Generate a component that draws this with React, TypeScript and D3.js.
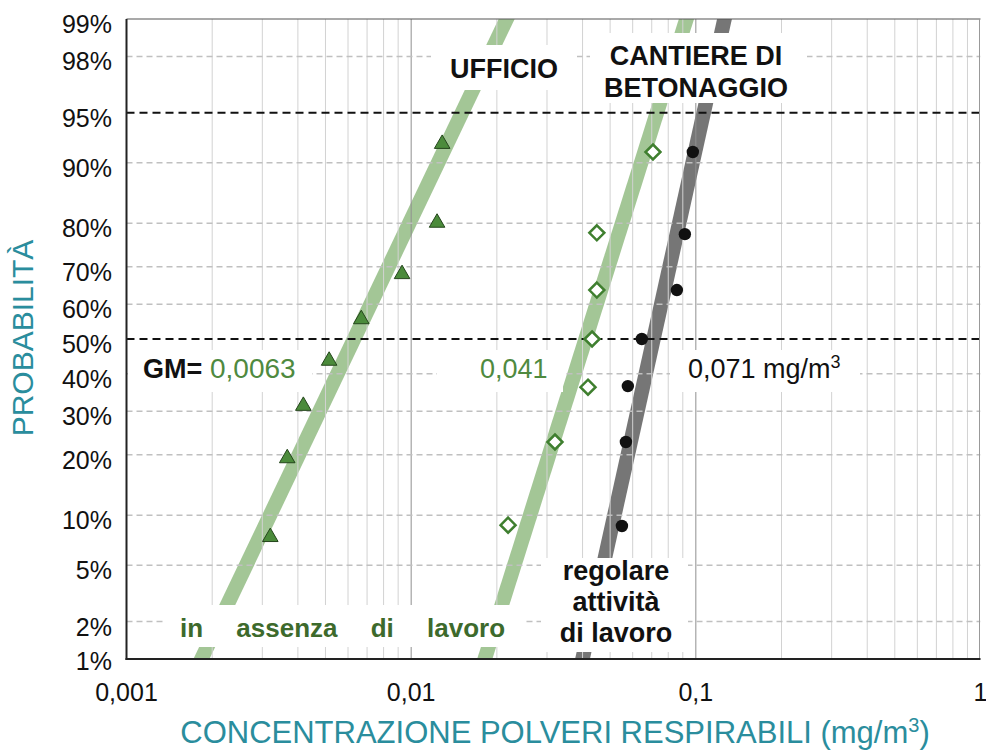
import React from "react";
import * as d3 from "d3";

// ---------- data ----------
const yTickProbs = [1, 2, 5, 10, 20, 30, 40, 50, 60, 70, 80, 90, 95, 98, 99];
const yTickLabels = ["1%", "2%", "5%", "10%", "20%", "30%", "40%", "50%", "60%", "70%", "80%", "90%", "95%", "98%", "99%"];
const refProbs = [50, 95]; // black dashed reference lines
const xTickValues = [0.001, 0.01, 0.1, 1];
const xTickLabels = ["0,001", "0,01", "0,1", "1"];

// UFFICIO (triangles)
const ufficioConc = [0.0032, 0.00367, 0.00418, 0.00515, 0.00668, 0.00929, 0.01233, 0.01285];
const ufficioProb = [7.6, 19.5, 31.6, 44, 56, 68.4, 80.3, 92.3];
// CANTIERE - in assenza di lavoro (open diamonds)
const assenzaConc = [0.0219, 0.032, 0.0418, 0.0432, 0.0449, 0.0449, 0.0707];
const assenzaProb = [8.8, 22.7, 36.3, 50, 63.9, 78, 91.3];
// CANTIERE - regolare attività di lavoro (black dots)
const regolareConc = [0.055, 0.0568, 0.0577, 0.0646, 0.0858, 0.0915, 0.0976];
const regolareProb = [8.7, 22.7, 36.6, 50, 63.9, 77.7, 91.3];

// fitted log-normal lines: geometric mean and geometric standard deviation
const fitNames = ["ufficio", "assenza", "regolare"];
const fitGM = [0.0063, 0.041, 0.071];
const fitGSD = [1.7, 1.42, 1.28];
const fitColors = ["#a3c696", "#a3c696", "#767676"];

// ---------- helpers ----------
function probit(p: number): number {
  const a = [-39.69683028665376, 220.9460984245205, -275.9285104469687, 138.357751867269, -30.66479806614716, 2.506628277459239];
  const b = [-54.47609879822406, 161.5858368580409, -155.6989798598866, 66.80131188771972, -13.28068155288572];
  const c = [-0.007784894002430293, -0.3223964580411365, -2.400758277161838, -2.549732539343734, 4.374664141464968, 2.938163982698783];
  const d = [0.007784695709041462, 0.3224671290700398, 2.445134137142996, 3.754408661907416];
  const plow = 0.02425;
  if (p < plow) {
    const q = Math.sqrt(-2 * Math.log(p));
    return (((((c[0] * q + c[1]) * q + c[2]) * q + c[3]) * q + c[4]) * q + c[5]) / ((((d[0] * q + d[1]) * q + d[2]) * q + d[3]) * q + 1);
  }
  if (p <= 1 - plow) {
    const q = p - 0.5;
    const r = q * q;
    return ((((((a[0] * r + a[1]) * r + a[2]) * r + a[3]) * r + a[4]) * r + a[5]) * q) / (((((b[0] * r + b[1]) * r + b[2]) * r + b[3]) * r + b[4]) * r + 1);
  }
  const q = Math.sqrt(-2 * Math.log(1 - p));
  return -(((((c[0] * q + c[1]) * q + c[2]) * q + c[3]) * q + c[4]) * q + c[5]) / ((((d[0] * q + d[1]) * q + d[2]) * q + d[3]) * q + 1);
}

const W = 986;
const H = 751;
const L = 126.5;
const R = 980.5;
const T = 19;
const B = 659;

const FONT = "'Liberation Sans', Arial, Helvetica, sans-serif";
const TEAL = "#2a8d9d";
const GREEN_TXT = "#4f8a3f";
const DARK_GREEN = "#3d6a2c";

export default function App() {
  const x = d3.scaleLog().domain([0.001, 1]).range([L, R]);
  const z = d3.scaleLinear().domain([probit(0.01), probit(0.99)]).range([B, T]);
  const y = (p: number) => z(probit(p / 100));

  const minorX: number[] = [];
  [0.001, 0.01, 0.1].forEach((dec) => {
    for (let k = 2; k <= 9; k++) minorX.push(dec * k);
  });
  const majorX = [0.01, 0.1];

  const fitPath = (gm: number, gsd: number) => {
    const pts = [0.3, 99.7].map((p) => [x(gm * Math.pow(gsd, probit(p / 100))), y(p)] as [number, number]);
    return d3.line()(pts) as string;
  };

  const tri = d3.symbol().type(d3.symbolTriangle).size(105)() as string;
  const dm = 7.5;
  const diamond = `M0,${-dm}L${dm},0L0,${dm}L${-dm},0Z`;

  const grayGrid = yTickProbs.filter((p) => p !== 1 && p !== 99 && !refProbs.includes(p));

  return (
    <svg
      width={W}
      height={H}
      style={{ position: "absolute", left: 0, top: 0, background: "#fff" }}
      fontFamily={FONT}
    >
      <defs>
        <clipPath id="plotClip">
          <rect x={L} y={T} width={R - L} height={B - T} />
        </clipPath>
        <filter id="blur" x="-20%" y="-20%" width="140%" height="140%">
          <feGaussianBlur stdDeviation="1.5" />
        </filter>
      </defs>

      <rect x={0} y={0} width={W} height={H} fill="#fff" />

      {/* frame shadow */}
      <line x1={L - 2} x2={L - 2} y1={T} y2={B + 2} stroke="#999" strokeWidth={3} filter="url(#blur)" />
      <line x1={L - 2} x2={R} y1={B + 3} y2={B + 3} stroke="#999" strokeWidth={3} filter="url(#blur)" />
      <rect x={L} y={T} width={R - L} height={B - T} fill="#fff" />

      <g clipPath="url(#plotClip)">
        {/* fitted lines */}
        {fitNames.map((n, i) => (
          <path key={n} d={fitPath(fitGM[i], fitGSD[i])} stroke={fitColors[i]} strokeWidth={14.5} fill="none" />
        ))}

        {/* vertical grid */}
        {minorX.map((v, i) => (
          <line key={"mx" + i} x1={x(v)} x2={x(v)} y1={T} y2={B} stroke="#d2d2d2" strokeWidth={1} />
        ))}
        {majorX.map((v, i) => (
          <line key={"Mx" + i} x1={x(v)} x2={x(v)} y1={T} y2={B} stroke="#8f8f8f" strokeWidth={1} />
        ))}

        {/* horizontal grid */}
        {grayGrid.map((p) => (
          <line key={"gy" + p} x1={L} x2={R} y1={y(p)} y2={y(p)} stroke="#c0c0c0" strokeWidth={1.5} strokeDasharray="6,4" />
        ))}
        {refProbs.map((p) => (
          <line key={"ry" + p} x1={L} x2={R} y1={y(p)} y2={y(p)} stroke="#111" strokeWidth={2} strokeDasharray="8,5" />
        ))}

        {/* label backgrounds */}
        <rect x={431} y={45} width={146} height={45} fill="#fff" />
        <rect x={590} y={33} width={217} height={70} fill="#fff" />
        <rect x={128} y={350} width={184} height={42} fill="#fff" />
        <rect x={437} y={350} width={126} height={42} fill="#fff" />
        <rect x={670} y={350} width={190} height={42} fill="#fff" />
        <rect x={163} y={605} width={360} height={42} fill="#fff" />
        <rect x={541} y={558} width={147} height={94} fill="#fff" />
      </g>

      {/* frame */}
      <line x1={L} x2={R} y1={T} y2={T} stroke="#555" strokeWidth={1.2} />
      <line x1={R - 1} x2={R - 1} y1={T} y2={B} stroke="#999" strokeWidth={1} />
      <line x1={L} x2={L} y1={T} y2={B + 1} stroke="#222" strokeWidth={2} />
      <line x1={L - 1} x2={R} y1={B} y2={B} stroke="#222" strokeWidth={2} />

      {/* annotations */}
      <text x={504} y={78} textAnchor="middle" fontSize={27} fontWeight="bold" fill="#111">UFFICIO</text>
      <text x={696} y={65} textAnchor="middle" fontSize={27} fontWeight="bold" fill="#111">CANTIERE DI</text>
      <text x={696} y={97} textAnchor="middle" fontSize={27} fontWeight="bold" fill="#111">BETONAGGIO</text>

      <text x={143} y={378} fontSize={27} fontWeight="bold" fill="#111">GM=</text>
      <text x={210} y={378} fontSize={28} fill={GREEN_TXT}>0,0063</text>
      <text x={480} y={378} fontSize={27} fill={GREEN_TXT}>0,041</text>
      <text x={688} y={378} fontSize={27} fill="#111">
        0,071 mg/m<tspan dy={-10} fontSize={18}>3</tspan>
      </text>

      <text x={180} y={637} fontSize={26} fontWeight="bold" fill={DARK_GREEN} wordSpacing={26}>
        in assenza di lavoro
      </text>
      <text x={616} y={580} textAnchor="middle" fontSize={27} fontWeight="bold" fill="#111">regolare</text>
      <text x={616} y={611} textAnchor="middle" fontSize={27} fontWeight="bold" fill="#111">attività</text>
      <text x={616} y={642} textAnchor="middle" fontSize={27} fontWeight="bold" fill="#111">di lavoro</text>

      {/* points */}
      <g clipPath="url(#plotClip)">
        {ufficioConc.map((c, i) => (
          <path key={"t" + i} d={tri} transform={`translate(${x(c)},${y(ufficioProb[i]) + 1})`} fill="#4b8b3b" stroke="#24461b" strokeWidth={1} />
        ))}
        {assenzaConc.map((c, i) => (
          <path key={"d" + i} d={diamond} transform={`translate(${x(c)},${y(assenzaProb[i])})`} fill="#fff" stroke="#3f7f2f" strokeWidth={2.5} />
        ))}
        {regolareConc.map((c, i) => (
          <circle key={"c" + i} cx={x(c)} cy={y(regolareProb[i])} r={6.2} fill="#111" />
        ))}
      </g>

      {/* y tick labels */}
      {yTickProbs.map((p, i) => (
        <text key={"yl" + p} x={112} y={y(p) + (p === 1 ? 11 : 14)} textAnchor="end" fontSize={25} fill="#111">
          {yTickLabels[i]}
        </text>
      ))}

      {/* x tick labels */}
      {xTickValues.map((v, i) => (
        <text key={"xl" + v} x={x(v)} y={701} textAnchor="middle" fontSize={25} fill="#111">
          {xTickLabels[i]}
        </text>
      ))}

      {/* axis titles */}
      <text x={555} y={743} textAnchor="middle" fontSize={31} fill={TEAL}>
        CONCENTRAZIONE POLVERI RESPIRABILI (mg/m<tspan dy={-11} fontSize={20}>3</tspan>
        <tspan dy={11}>)</tspan>
      </text>
      <text transform={`translate(33,338) rotate(-90)`} textAnchor="middle" fontSize={30} fill={TEAL}>
        PROBABILITÀ
      </text>
    </svg>
  );
}
